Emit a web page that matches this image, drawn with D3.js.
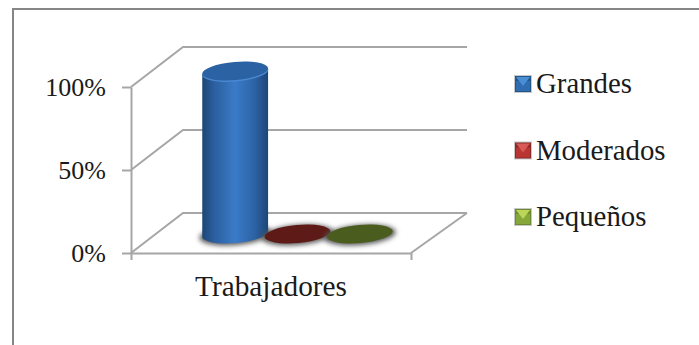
<!DOCTYPE html>
<html>
<head>
<meta charset="utf-8">
<script src="https://cdn.jsdelivr.net/npm/d3@7"></script>
<style>
  html, body { margin: 0; padding: 0; background: #fff; }
  svg { display: block; }
  text { font-family: "Liberation Serif", serif; fill: #1a1a1a; }
</style>
</head>
<body>
<div id="chart"></div>
<script>
const categories = ["Trabajadores"];
const seriesNames = ["Grandes", "Moderados", "Pequeños"];
const seriesValues = [100, 0, 0];
const yTicks = [0, 50, 100];

const topColors = ["#2a62a4", "#5e1a16", "#4a5c1e"];
const swatchColors = [
  { light: "#4a8ed6", mid: "#2f6cb0", dark: "#255688" },
  { light: "#d85a56", mid: "#b93532", dark: "#8a2a28" },
  { light: "#bcd658", mid: "#86a83a", dark: "#6b8a32" }
];

const width = 699, height = 345;
const gridColor = "#a6a6a6";
// offset of the back wall from the front of the box
const depthX = 52, depthY = -40;

let svg = d3.select("#chart").append("svg")
  .attr("width", width)
  .attr("height", height);

let defs = svg.append("defs");

let bodyGrad = defs.append("linearGradient").attr("id", "body-grad");
[[0, "#1c4676"], [0.18, "#2b5f9f"], [0.5, "#3a7bc8"], [0.8, "#2c62a4"], [1, "#1c4676"]].forEach(function(s) {
  bodyGrad.append("stop").attr("offset", s[0]).attr("stop-color", s[1]);
});

defs.append("filter").attr("id", "soft")
  .attr("x", "-20%").attr("y", "-50%").attr("width", "140%").attr("height", "200%")
  .append("feGaussianBlur").attr("stdDeviation", 2.5);

// outer frame, open on the right and at the bottom
svg.append("path")
  .attr("d", "M13,345V9H699")
  .attr("fill", "none")
  .attr("stroke", "#868686")
  .attr("stroke-width", 2);

let y = d3.scaleLinear().domain([0, 100]).range([253, 87]);
let x = d3.scaleBand().domain(categories).range([131, 411]);

// walls and floor
let grid = svg.append("g")
  .attr("fill", "none")
  .attr("stroke", gridColor)
  .attr("stroke-width", 2);

grid.selectAll("path.grid")
  .data(yTicks)
  .enter().append("path")
  .attr("class", "grid")
  .attr("d", function(d) {
    return "M131," + y(d) + "L" + (131 + depthX) + "," + (y(d) + depthY) + "H" + (411 + depthX + 4);
  });

grid.append("path")
  .attr("d", "M411," + y(0) + "L" + (411 + depthX + 4) + "," + (y(0) + depthY));

let yAxis = svg.append("g")
  .attr("transform", "translate(131,0)")
  .call(d3.axisLeft(y).tickValues(yTicks).tickSize(9).tickSizeOuter(0).tickFormat(function(d) { return d + "%"; }));

let xAxis = svg.append("g")
  .attr("transform", "translate(0,253)")
  .call(d3.axisBottom(x).tickSize(0).tickSizeOuter(7));

yAxis.selectAll("path, line").attr("stroke", gridColor).attr("stroke-width", 2);
xAxis.selectAll("path").attr("stroke", gridColor).attr("stroke-width", 2);
yAxis.selectAll("text").attr("font-size", 26).attr("x", -25).attr("dy", "0.34em");
xAxis.selectAll("text").attr("font-size", 29.3).attr("y", 22).attr("dy", "0.71em");

// cylinders stand on the floor, so they get their own value scale
let xSeries = d3.scaleBand().domain(seriesNames).range([204, 391]);
let yBar = d3.scaleLinear().domain([0, 100]).range([234, 71]);

const tilt = -5, ry = 9;
let bars = svg.append("g");

seriesNames.forEach(function(name, i) {
  let cx = xSeries(name) + xSeries.bandwidth() / 2;
  let rx = xSeries.bandwidth() * 0.53;
  let top = yBar(seriesValues[i]);
  let base = yBar(0);
  let dx = rx * Math.cos(tilt * Math.PI / 180);
  let dy = rx * Math.sin(tilt * Math.PI / 180);

  // contact shadow on the floor
  bars.append("ellipse")
    .attr("cx", cx).attr("cy", base + 1)
    .attr("rx", rx + 3).attr("ry", ry + 1)
    .attr("transform", "rotate(" + tilt + "," + cx + "," + base + ")")
    .attr("fill", "#555")
    .attr("filter", "url(#soft)");

  if (seriesValues[i] > 0) {
    bars.append("path")
      .attr("d", "M" + (cx - dx) + "," + (top - dy) +
        "L" + (cx - dx) + "," + (base - dy) +
        "A" + rx + "," + ry + " " + tilt + " 0 0 " + (cx + dx) + "," + (base + dy) +
        "L" + (cx + dx) + "," + (top + dy) + "Z")
      .attr("fill", "url(#body-grad)");
    // light rim along the lower edge of the cap
    bars.append("ellipse")
      .attr("cx", cx).attr("cy", top + 1.5)
      .attr("rx", rx).attr("ry", ry)
      .attr("transform", "rotate(" + tilt + "," + cx + "," + top + ")")
      .attr("fill", "#4a88d0");
  }

  bars.append("ellipse")
    .attr("cx", cx).attr("cy", top)
    .attr("rx", rx).attr("ry", ry)
    .attr("transform", "rotate(" + tilt + "," + cx + "," + top + ")")
    .attr("fill", topColors[i]);
});

// legend
let legendY = d3.scalePoint().domain(seriesNames).range([84, 217]);
const swatch = 16;

let legend = svg.selectAll("g.legend")
  .data(seriesNames)
  .enter().append("g")
  .attr("class", "legend")
  .attr("transform", function(d) { return "translate(515," + legendY(d) + ")"; });

legend.append("rect")
  .attr("x", -1).attr("y", -swatch / 2 - 1)
  .attr("width", swatch + 2).attr("height", swatch + 2)
  .attr("fill", "#c8c8c8");

legend.append("rect")
  .attr("y", -swatch / 2)
  .attr("width", swatch).attr("height", swatch)
  .attr("fill", function(d, i) { return swatchColors[i].dark; });

legend.append("path")
  .attr("d", "M1," + (-swatch / 2 + 5) + "H" + (swatch - 1) + "V" + (swatch / 2 - 1) + "H1Z")
  .attr("fill", function(d, i) { return swatchColors[i].mid; });

// bevel on the upper edge of the key
legend.append("path")
  .attr("d", "M1," + (-swatch / 2 + 1) + "H" + (swatch - 1) + "L" + (swatch / 2) + "," + (swatch / 2 - 6) + "Z")
  .attr("fill", function(d, i) { return swatchColors[i].light; });

legend.append("text")
  .attr("x", 21)
  .attr("dy", "0.32em")
  .attr("font-size", 28.8)
  .text(function(d) { return d; });
</script>
</body>
</html>
